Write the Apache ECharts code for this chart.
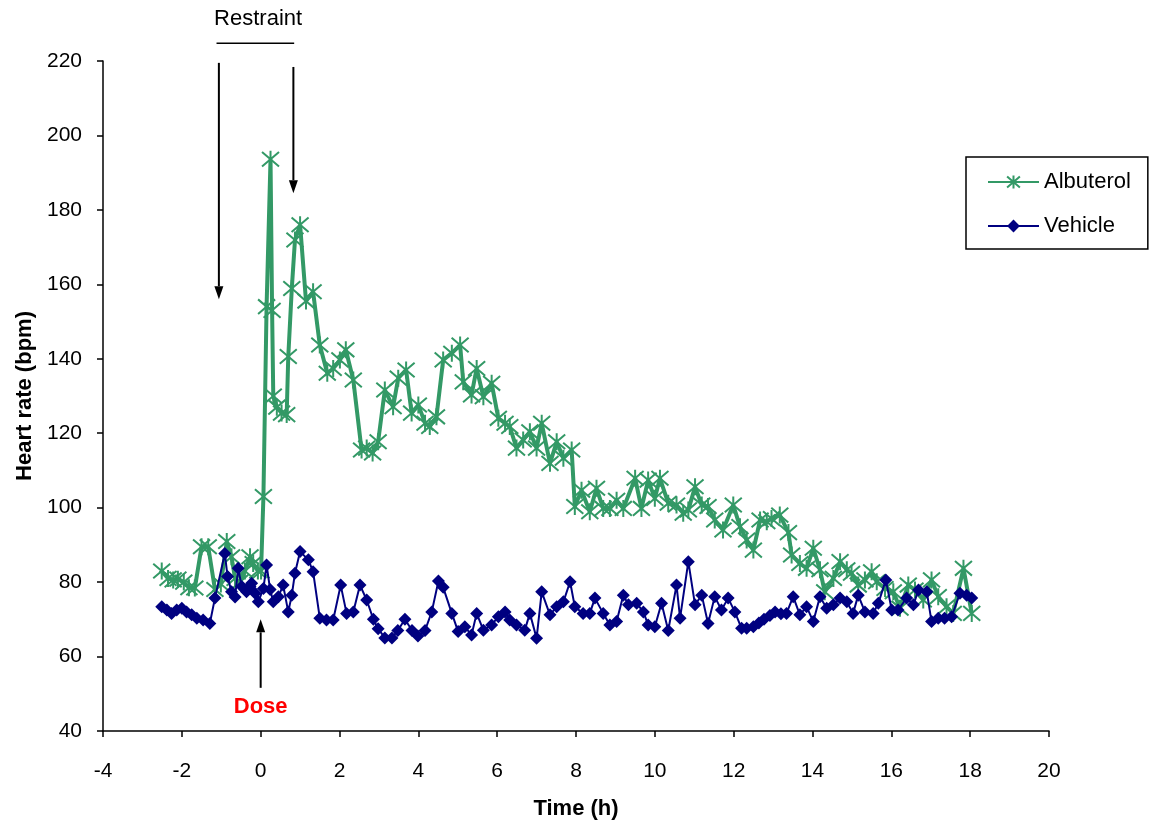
<!DOCTYPE html>
<html>
<head>
<meta charset="utf-8">
<script src="https://cdn.jsdelivr.net/npm/echarts@6/dist/echarts.min.js"></script>
<style>
html,body{margin:0;padding:0;background:#fff;}
#c{width:1151px;height:823px;}
</style>
</head>
<body>
<div id="c"></div>
<script>
// Albuterol: time (h) and heart rate (bpm)
const albTime = [-2.51,-2.35,-2.22,-2.10,-1.95,-1.82,-1.67,-1.50,-1.33,-1.16,-1.01,-0.86,-0.74,-0.65,-0.53,-0.40,-0.27,-0.19,-0.07,0.01,
0.07,0.15,0.25,0.29,0.32,0.41,0.53,0.66,0.70,0.79,0.87,1.00,1.15,1.33,1.50,1.69,1.84,2.01,2.16,2.35,
2.56,2.69,2.84,2.98,3.15,3.36,3.49,3.69,3.83,4.00,4.17,4.29,4.46,4.63,4.85,5.06,5.14,5.35,5.48,5.65,
5.86,6.03,6.20,6.32,6.49,6.66,6.83,7.00,7.13,7.34,7.51,7.68,7.89,7.97,8.14,8.35,8.52,8.69,8.86,9.03,
9.20,9.50,9.66,9.83,10.00,10.13,10.34,10.55,10.72,10.85,11.02,11.19,11.35,11.52,11.73,11.99,12.16,12.33,12.50,12.67,
12.84,12.96,13.17,13.39,13.47,13.68,13.85,14.02,14.19,14.31,14.53,14.70,14.87,14.99,15.16,15.33,15.50,15.63,15.84,16.05,
16.22,16.43,16.60,16.81,17.02,17.19,17.40,17.57,17.83,18.04];
const albHR = [83,81,80.6,80.8,80,78.5,78.4,89.5,89.5,78,79.5,90.9,86.8,81,80,83,86.8,85,83,83,
103,154,193.6,153,130,127,125.4,125,140.6,158.9,171.9,176,155.5,158,143.7,136.1,137.4,139.7,142.4,134.3,
115.5,116,114.7,117.7,131.6,127.1,134.8,137,125.4,127.6,122.7,121.8,124.4,139.7,141.5,143.7,133.8,130.3,137.4,129.8,
133.4,124,122.7,121.8,116,118.2,120.4,116,122.7,111.9,117.7,113.3,115.5,100.3,104.7,98.9,105.2,99.8,99.8,102,
99.8,107.9,99.8,107.4,102.5,107.9,101.2,100.7,98.5,99.4,105.6,100.7,100.3,96.7,94,100.7,94.9,91.3,88.6,96.7,
96.2,97.1,98,93.3,87.3,85,83.7,89.1,83.3,77.4,81,85.5,83.3,82.4,79.2,80.6,82.8,80.1,78.3,77.4,
73,79.2,77.9,75.2,80.6,76.1,73.4,71.6,83.7,71.6];

// Vehicle: time (h) and heart rate (bpm)
const vehTime = [-2.51,-2.38,-2.26,-2.13,-2.00,-1.88,-1.75,-1.62,-1.46,-1.29,-1.16,-0.91,-0.84,-0.74,-0.65,-0.57,-0.48,-0.36,-0.27,-0.23,
-0.14,-0.06,0.07,0.15,0.24,0.32,0.45,0.57,0.70,0.79,0.87,1.00,1.21,1.33,1.50,1.67,1.84,2.03,2.18,2.35,
2.52,2.69,2.86,2.98,3.15,3.33,3.48,3.66,3.84,3.99,4.17,4.34,4.51,4.63,4.85,5.01,5.18,5.35,5.48,5.65,
5.86,6.03,6.20,6.32,6.49,6.70,6.83,7.00,7.13,7.34,7.51,7.68,7.85,7.97,8.18,8.35,8.48,8.69,8.86,9.03,
9.20,9.33,9.54,9.71,9.83,10.00,10.17,10.34,10.55,10.64,10.85,11.02,11.19,11.35,11.52,11.69,11.86,12.03,12.20,12.33,
12.50,12.64,12.77,12.92,13.05,13.20,13.34,13.51,13.68,13.85,14.02,14.19,14.36,14.53,14.70,14.87,15.03,15.16,15.33,15.54,
15.67,15.86,16.01,16.17,16.39,16.56,16.69,16.90,17.02,17.19,17.35,17.53,17.74,17.91,18.04];
const vehHR = [73.4,72.5,71.6,72.5,73,72,71.2,70.3,69.8,68.9,75.7,87.7,81.5,77.4,76,83.7,78.8,77.4,78.8,79.7,
77,74.7,78.3,84.6,78,74.7,76.1,79.2,72,76.5,82.4,88.2,86,82.8,70.3,69.8,69.8,79.2,71.6,72,
79.2,75.2,70,67.5,65,65,67,70,67,65.5,67,72,80.3,78.6,71.6,66.7,68,65.8,71.6,67.1,
68.5,70.7,72,69.8,68.5,67.1,71.6,64.9,77.4,71.2,73.4,74.7,80.1,73.4,71.6,71.6,75.7,71.6,68.5,69.4,
76.5,73.9,74.3,72,68.5,68,74.3,67,79.2,70.3,85.5,73.9,76.5,68.9,76.1,72.5,75.7,72,67.6,67.6,
68,69,70,71,72,71.5,71.6,76.1,71.2,73.4,69.4,76.1,73,73.9,75.7,74.7,71.6,76.5,72,71.6,
74.3,80.6,72.5,72.5,75.7,73.9,77.9,77.4,69.4,70.3,70.3,70.7,77,76.5,75.7];

const seriesNames = ['Albuterol', 'Vehicle'];
const xTicks = {min: -4, max: 20, interval: 2};
const yTicks = {min: 40, max: 220, interval: 20};

// annotations (data coordinates)
const restraintX = [-1.06, 0.83];
const restraintArrowY = [[219.5, 156.0], [218.4, 184.5]];
const restraintBarY = 224.8;
const restraintTextY = 231.3;
const doseX = 0;
const doseArrowY = [51.6, 70.0];
const doseTextY = 46.4;

const GREEN = '#339966';
const NAVY = '#000080';
const FONT = 'Liberation Sans, Arial, sans-serif';
const star = 'path://M0 0L12 12M12 0L0 12M6 -1L6 13';

const chart = echarts.init(document.getElementById('c'));
chart.setOption({
  animation: false,
  backgroundColor: '#fff',
  textStyle: {fontFamily: FONT},
  grid: {left: 103, right: 102, top: 61, bottom: 92, containLabel: false, outerBoundsMode: 'none'},
  legend: {
    orient: 'vertical',
    left: 966, top: 157,
    backgroundColor: '#fff',
    borderColor: '#000', borderWidth: 1.5,
    padding: [14, 17, 12, 21],
    itemGap: 22,
    itemWidth: 51, itemHeight: 16,
    textStyle: {fontSize: 22, color: '#000', fontFamily: FONT},
    data: seriesNames
  },
  xAxis: {
    type: 'value', min: xTicks.min, max: xTicks.max, interval: xTicks.interval,
    name: 'Time (h)', nameLocation: 'middle', nameGap: 67,
    nameTextStyle: {fontSize: 22, fontWeight: 'bold', color: '#000', fontFamily: FONT},
    axisLine: {onZero: false, lineStyle: {color: '#000', width: 1.5}},
    axisTick: {show: true, length: 6, lineStyle: {color: '#000', width: 1.5}},
    axisLabel: {fontSize: 21, color: '#000', margin: 30, fontFamily: FONT},
    splitLine: {show: false}
  },
  yAxis: {
    type: 'value', min: yTicks.min, max: yTicks.max, interval: yTicks.interval,
    name: 'Heart rate (bpm)', nameLocation: 'middle', nameGap: 66, nameRotate: 90,
    nameTextStyle: {fontSize: 22, fontWeight: 'bold', color: '#000', fontFamily: FONT},
    axisLine: {onZero: false, lineStyle: {color: '#000', width: 1.5}},
    axisTick: {show: true, length: 6, lineStyle: {color: '#000', width: 1.5}},
    axisLabel: {fontSize: 21, color: '#000', margin: 21, fontFamily: FONT},
    splitLine: {show: false}
  },
  series: [
    {
      name: seriesNames[0], type: 'line',
      data: albTime.map((t, i) => [t, albHR[i]]),
      symbol: star, symbolSize: 17,
      lineStyle: {color: GREEN, width: 4},
      itemStyle: {color: GREEN, borderColor: GREEN, borderWidth: 2},
      z: 2
    },
    {
      name: seriesNames[1], type: 'line',
      data: vehTime.map((t, i) => [t, vehHR[i]]),
      symbol: 'diamond', symbolSize: 13,
      lineStyle: {color: NAVY, width: 2},
      itemStyle: {color: NAVY, borderColor: NAVY, borderWidth: 0},
      z: 3
    }
  ]
});

function px(x, y) { return chart.convertToPixel({gridIndex: 0}, [x, y]); }
function arrow(x, y0, y1) {
  const a = px(x, y0), b = px(x, y1);
  const dir = b[1] > a[1] ? 1 : -1;
  const headLen = 13, headW = 4.5;
  return [
    {type: 'line', shape: {x1: a[0], y1: a[1], x2: b[0], y2: b[1] - dir * headLen}, style: {stroke: '#000', lineWidth: 2}, z: 10},
    {type: 'polygon', shape: {points: [[b[0], b[1]], [b[0] - headW, b[1] - dir * headLen], [b[0] + headW, b[1] - dir * headLen]]}, style: {fill: '#000'}, z: 10}
  ];
}
const g = [];
g.push(...arrow(restraintX[0], restraintArrowY[0][0], restraintArrowY[0][1]));
g.push(...arrow(restraintX[1], restraintArrowY[1][0], restraintArrowY[1][1]));
g.push(...arrow(doseX, doseArrowY[0], doseArrowY[1]));
const bl = px(restraintX[0] - 0.06, restraintBarY), br = px(restraintX[1] + 0.02, restraintBarY);
g.push({type: 'line', shape: {x1: bl[0], y1: bl[1], x2: br[0], y2: br[1]}, style: {stroke: '#000', lineWidth: 1.5}, z: 10});
const rt = px((restraintX[0] + restraintX[1]) / 2 + 0.05, restraintTextY);
g.push({type: 'text', x: rt[0], y: rt[1], style: {text: 'Restraint', fontSize: 22, fontFamily: FONT, fill: '#000', align: 'center', verticalAlign: 'middle'}, z: 10});
const dt = px(doseX, doseTextY);
g.push({type: 'text', x: dt[0], y: dt[1], style: {text: 'Dose', fontSize: 22, fontWeight: 'bold', fontFamily: FONT, fill: '#ff0000', align: 'center', verticalAlign: 'middle'}, z: 10});
chart.setOption({graphic: g});
</script>
</body>
</html>
